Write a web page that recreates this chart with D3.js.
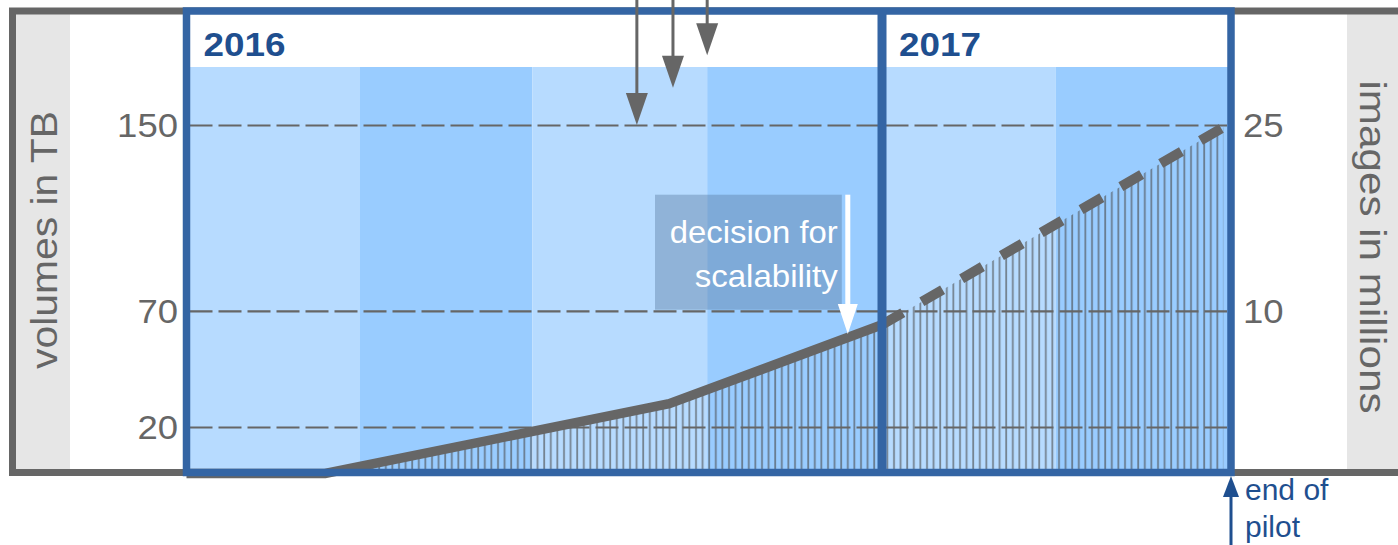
<!DOCTYPE html>
<meta charset="utf-8">
<style>
body{margin:0;background:#fff;}
svg text{font-family:"Liberation Sans",Arial,sans-serif;}
</style>
<svg id="chart" width="1398" height="545"></svg>
<script src="https://d3js.org/d3.v7.min.js"></script>
<script>
// DATA
const YEARS = ['2016', '2017']
const YEAR_STARTS = ['2016-01-01', '2017-01-01']
const QUARTER_STARTS = ['2016-01-01', '2016-04-01', '2016-07-01', '2016-10-01', '2017-01-01', '2017-04-01', '2017-07-01']
const LEFT_TICKS = [20, 70, 150]   // volumes in TB
const RIGHT_TICKS = [10, 25]       // images in millions
// measured volume (solid line)
const ACTUAL_DATES = ['2016-01-01', '2016-03-14', '2016-09-11', '2017-01-01']
const ACTUAL_TB = [0, 0, 30, 64]
// expected volume (dashed line)
const PLANNED_DATES = ['2017-01-01', '2017-06-27']
const PLANNED_TB = [64, 149]
// grey arrows coming from the top
const MILESTONE_DATES = ['2016-08-25', '2016-09-13', '2016-10-01']
const MILESTONE_TB = [150, 166, 180]
// white arrow "decision for scalability"
const DECISION_DATE = '2016-12-14'
const DECISION_TB = [120, 60]
const DECISION_LINES = ['decision for', 'scalability']
const PILOT_END = '2017-07-01'
const PILOT_LINES = ['end of', 'pilot']

const parse = d3.timeParse('%Y-%m-%d')
const actual = ACTUAL_DATES.map((d, i) => ({date: parse(d), tb: ACTUAL_TB[i]}))
const planned = PLANNED_DATES.map((d, i) => ({date: parse(d), tb: PLANNED_TB[i]}))

// layout
const frameL = 186.5, frameR = 1231, frameT = 11, frameB = 472.5
const bandTop = 67
const BLUE = '#3465a4', GREY = '#666', DARKBLUE = '#1f4f8f'

const x = d3.scaleTime()
  .domain([parse(YEAR_STARTS[0]), parse(YEAR_STARTS[1]), parse(PILOT_END)])
  .range([frameL, 882, frameR])
const y = d3.scaleLinear().domain([20, 150]).range([427, 125])
const yRight = d3.scaleLinear().domain([10, 25]).range([y(70), y(150)])

const svg = d3.select('#chart')
const defs = svg.append('defs')

defs.append('clipPath').attr('id', 'inner')
  .append('rect').attr('x', frameL).attr('y', bandTop)
  .attr('width', frameR - frameL).attr('height', frameB - bandTop)

const hatch = defs.append('pattern').attr('id', 'hatch')
  .attr('patternUnits', 'userSpaceOnUse').attr('width', 6.6).attr('height', 20)
hatch.append('line').attr('x1', 3).attr('x2', 3).attr('y1', 0).attr('y2', 20)
  .attr('stroke', '#4a4a4a').attr('stroke-opacity', 0.6).attr('stroke-width', 1.8)

// grey side panels and outer frame
svg.append('rect').attr('x', 16).attr('y', 14).attr('width', 54).attr('height', 455).attr('fill', '#e6e6e6')
svg.append('rect').attr('x', 1347).attr('y', 14).attr('width', 60).attr('height', 455).attr('fill', '#e6e6e6')
svg.append('rect').attr('x', 12.5).attr('y', frameT).attr('width', 1500).attr('height', frameB - frameT)
  .attr('fill', 'none').attr('stroke', GREY).attr('stroke-width', 7)

// white inner area + quarter bands
svg.append('rect').attr('x', frameL).attr('y', frameT).attr('width', frameR - frameL)
  .attr('height', frameB - frameT).attr('fill', '#fff')
const quarters = QUARTER_STARTS.slice(0, -1).map((d, i) => ({from: parse(d), to: parse(QUARTER_STARTS[i + 1]), i}))
svg.append('g').selectAll('rect').data(quarters).enter().append('rect')
  .attr('x', d => x(d.from)).attr('y', bandTop)
  .attr('width', d => x(d.to) - x(d.from)).attr('height', frameB - bandTop)
  .attr('fill', d => d.i % 2 ? '#99ccff' : '#b7dbff')

// hatched area under the whole curve
const area = d3.area().x(d => x(d.date)).y0(y(0)).y1(d => y(d.tb))
svg.append('path').datum(actual.concat(planned.slice(1)))
  .attr('clip-path', 'url(#inner)')
  .attr('d', area).attr('fill', 'url(#hatch)')

// dashed grid lines
const grid = svg.append('g').attr('transform', `translate(${frameL + 3},0)`)
  .call(d3.axisRight(y).tickValues(LEFT_TICKS).tickSize(frameR - frameL - 7).tickFormat(''))
grid.select('.domain').remove()
grid.selectAll('line').attr('stroke', GREY).attr('stroke-width', 2.2).attr('stroke-dasharray', '23,6')

// the volume line
const line = d3.line().x(d => x(d.date)).y(d => y(d.tb))
svg.append('path').datum(actual).attr('d', line)
  .attr('fill', 'none').attr('stroke', GREY).attr('stroke-width', 9.5)
svg.append('path').datum(planned).attr('d', line)
  .attr('fill', 'none').attr('stroke', GREY).attr('stroke-width', 10).attr('stroke-dasharray', '24,22')

// decision box
const dx = x(parse(DECISION_DATE))
svg.append('rect').attr('x', 655).attr('y', y(DECISION_TB[0])).attr('width', dx - 6 - 655).attr('height', 115)
  .attr('fill', '#55779d').attr('fill-opacity', 0.4)
svg.append('g').selectAll('text').data(DECISION_LINES).enter().append('text')
  .attr('x', dx - 10).attr('y', (d, i) => y(DECISION_TB[0]) + 48 + i * 44)
  .attr('text-anchor', 'end').attr('fill', '#fff').style('font-size', '32px')
  .attr('textLength', (d, i) => i ? 143 : 168).attr('lengthAdjust', 'spacingAndGlyphs')
  .text(d => d)
svg.append('line').attr('x1', dx).attr('x2', dx)
  .attr('y1', y(DECISION_TB[0])).attr('y2', y(DECISION_TB[1]) - 28)
  .attr('stroke', '#fff').attr('stroke-width', 5)
svg.append('path').attr('fill', '#fff')
  .attr('d', `M${dx - 10},${y(DECISION_TB[1]) - 30}L${dx + 10},${y(DECISION_TB[1]) - 30}L${dx},${y(DECISION_TB[1])}Z`)

// blue frames (whole period and year divider)
svg.append('rect').attr('x', frameL).attr('y', frameT).attr('width', frameR - frameL).attr('height', frameB - frameT)
  .attr('fill', 'none').attr('stroke', BLUE).attr('stroke-width', 7.5)
svg.append('line').attr('x1', x(parse(YEAR_STARTS[1]))).attr('x2', x(parse(YEAR_STARTS[1])))
  .attr('y1', frameT).attr('y2', frameB).attr('stroke', BLUE).attr('stroke-width', 9)

// year titles
svg.append('g').selectAll('text').data(YEARS).enter().append('text')
  .attr('x', (d, i) => x(parse(YEAR_STARTS[i])) + 17).attr('y', 56)
  .attr('fill', DARKBLUE).style('font-size', '34px').style('font-weight', 'bold')
  .attr('textLength', 82).attr('lengthAdjust', 'spacingAndGlyphs')
  .text(d => d)

// tick labels left and right
const leftAxis = svg.append('g').attr('transform', 'translate(178,0)')
  .call(d3.axisLeft(y).tickValues(LEFT_TICKS).tickSize(0).tickPadding(0))
const rightAxis = svg.append('g').attr('transform', 'translate(1243,0)')
  .call(d3.axisRight(yRight).tickValues(RIGHT_TICKS).tickSize(0).tickPadding(0))
for (const ax of [leftAxis, rightAxis]) {
  ax.select('.domain').remove()
  ax.selectAll('text').attr('fill', GREY).attr('dy', '0.36em')
    .style('font-size', '33px').style('font-family', '"Liberation Sans",Arial,sans-serif')
    .attr('textLength', d => String(d).length * 20.3).attr('lengthAdjust', 'spacingAndGlyphs')
}

// axis titles
svg.append('text').attr('transform', 'translate(57,240) rotate(-90)')
  .attr('text-anchor', 'middle').attr('fill', GREY).style('font-size', '36px')
  .attr('textLength', 258).attr('lengthAdjust', 'spacingAndGlyphs')
  .text('volumes in TB')
svg.append('text').attr('transform', 'translate(1360,247) rotate(90)')
  .attr('text-anchor', 'middle').attr('fill', GREY).style('font-size', '36px')
  .attr('textLength', 333).attr('lengthAdjust', 'spacingAndGlyphs')
  .text('images in millions')

// grey arrows from the top
const milestones = MILESTONE_DATES.map((d, i) => ({x: x(parse(d)), tip: y(MILESTONE_TB[i])}))
const ms = svg.append('g').selectAll('g').data(milestones).enter().append('g')
ms.append('line').attr('x1', d => d.x).attr('x2', d => d.x).attr('y1', -5).attr('y2', d => d.tip - 28)
  .attr('stroke', GREY).attr('stroke-width', 3)
ms.append('path').attr('fill', GREY)
  .attr('d', d => `M${d.x - 11},${d.tip - 32}L${d.x + 11},${d.tip - 32}L${d.x},${d.tip}Z`)

// end of pilot
const px = x(parse(PILOT_END))
svg.append('line').attr('x1', px).attr('x2', px).attr('y1', 550).attr('y2', 494)
  .attr('stroke', DARKBLUE).attr('stroke-width', 3)
svg.append('path').attr('fill', DARKBLUE)
  .attr('d', `M${px - 8},${497}L${px + 8},${497}L${px},${476}Z`)
svg.append('g').selectAll('text').data(PILOT_LINES).enter().append('text')
  .attr('x', px + 14).attr('y', (d, i) => 500 + i * 37)
  .attr('fill', DARKBLUE).style('font-size', '30px')
  .text(d => d)
</script>
